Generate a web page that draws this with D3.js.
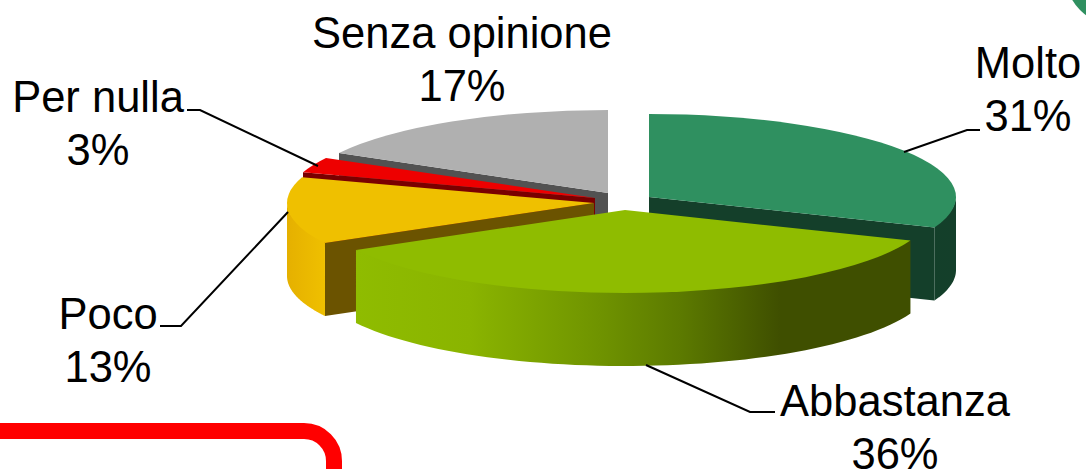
<!DOCTYPE html>
<html>
<head>
<meta charset="utf-8">
<script src="https://cdn.jsdelivr.net/npm/d3@7"></script>
<style>
html,body{margin:0;padding:0;background:#fff;overflow:hidden}
svg{display:block}
text{font-family:"Liberation Sans",Arial,sans-serif;font-size:43.5px;fill:#000;text-anchor:middle}
</style>
</head>
<body>
<svg id="c" width="1086" height="469"></svg>
<script>
const categories = ["Molto","Abbastanza","Poco","Per nulla","Senza opinione"];
const values = [31,36,13,3,17];
const percentLabels = ["31%","36%","13%","3%","17%"];
const topColors  = ["#2f9060","#8fbc00","#efc000","#ee0000","#b0b0b0"];
const edgeColors = ["#143f2a","#3f4f00","#6b5300","#7a0000","#525252"];

// layout (not data)
const W = 1086, H = 469, RX = 307, RY = 83, DEPTH = 73;
const apexes = [[649,197],[625,210],[594,203],[595,198],[608,193]];
const labelPos = [[1028,78],[895,416],[108,329],[98,112],[462,48]];
const LINE_H = 53;
const leaders = [
  [[904,152],[967,130],[980,130]],
  [[646,365],[750,412],[775,412]],
  [[288,212],[181,326],[160,326]],
  [[318,166],[200,110],[187,110]]
];
const paintOrder = [4,3,2,0,1];

const svg = d3.select("#c");
const defs = svg.append("defs");

const rimStops = {
  1: [[356,"#8fbc00"],[470,"#8ab400"],[600,"#6f9300"],[680,"#5c7a00"],[780,"#3f4f00"],[911,"#3f4f00"]],
  2: [[287,"#e5b000"],[325,"#efc000"]],
  0: [[900,"#123f2a"],[956,"#143f2a"]]
};
Object.entries(rimStops).forEach(([i,stops])=>{
  const g = defs.append("linearGradient").attr("id","rim"+i)
    .attr("gradientUnits","userSpaceOnUse")
    .attr("x1",stops[0][0]).attr("x2",stops[stops.length-1][0]).attr("y1",0).attr("y2",0);
  const x0 = stops[0][0], x1 = stops[stops.length-1][0];
  stops.forEach(s=>g.append("stop").attr("offset",(s[0]-x0)/(x1-x0)).attr("stop-color",s[1]));
});

const arcs = d3.pie().sort(null).value(d=>d)(values);
const unitArc = d3.arc().innerRadius(0).outerRadius(RX);
const yScale = RY/RX;
const px = (a,i)=>apexes[i][0]+RX*Math.sin(a);
const py = (a,i)=>apexes[i][1]-RY*Math.cos(a);

paintOrder.forEach(i=>{
  const a = arcs[i];
  const g = svg.append("g");
  // radial wall at the slice edge that faces the viewer
  const wallAngle = i===0 ? a.endAngle : (i===1 ? null : a.startAngle);
  if(wallAngle!==null){
    const [ax,ay] = apexes[i];
    const ex = px(wallAngle,i), ey = py(wallAngle,i);
    g.append("path")
      .attr("d",d3.line()([[ax,ay],[ex,ey],[ex,ey+DEPTH],[ax,ay+DEPTH]])+"Z")
      .attr("fill",edgeColors[i]);
  }
  // outer rim, only the front half of the ellipse shows; its upper edge tucks
  // under the top face (except at its two ends) so no background shows at the seam
  const lo = Math.max(a.startAngle,Math.PI/2), hi = Math.min(a.endAngle,Math.PI*1.5);
  if(hi>lo){
    const steps = d3.range(0,61).map(k=>lo+(hi-lo)*k/60);
    g.append("path")
      .attr("d",d3.area()
        .x(t=>px(t,i))
        .y0((t,k)=>py(t,i)-((k===0||k===60)?0:1.5))
        .y1(t=>py(t,i)+DEPTH)(steps))
      .attr("fill",`url(#rim${i})`);
  }
  // top face
  g.append("path")
    .attr("transform",`translate(${apexes[i][0]},${apexes[i][1]}) scale(1,${yScale})`)
    .attr("d",unitArc(a))
    .attr("fill",topColors[i]);
});

// leader lines
svg.append("g").selectAll("path").data(leaders).join("path")
  .attr("d",d=>d3.line()(d))
  .attr("fill","none").attr("stroke","#000").attr("stroke-width",2);

// labels
categories.forEach((c,i)=>{
  const t = svg.append("text");
  t.append("tspan").attr("x",labelPos[i][0]).attr("y",labelPos[i][1]).text(c);
  t.append("tspan").attr("x",labelPos[i][0]).attr("y",labelPos[i][1]+LINE_H).text(percentLabels[i]);
});

// decorations cropped from the surrounding slide
const p = d3.path();
p.moveTo(-20,431); p.lineTo(304,431); p.arcTo(334,431,334,461,30); p.lineTo(334,490);
svg.append("path").attr("d",p.toString()).attr("fill","none").attr("stroke","#ff0000").attr("stroke-width",16);
svg.append("circle").attr("cx",1115).attr("cy",-25).attr("r",49.5).attr("fill","#2f9060");
</script>
</body>
</html>
